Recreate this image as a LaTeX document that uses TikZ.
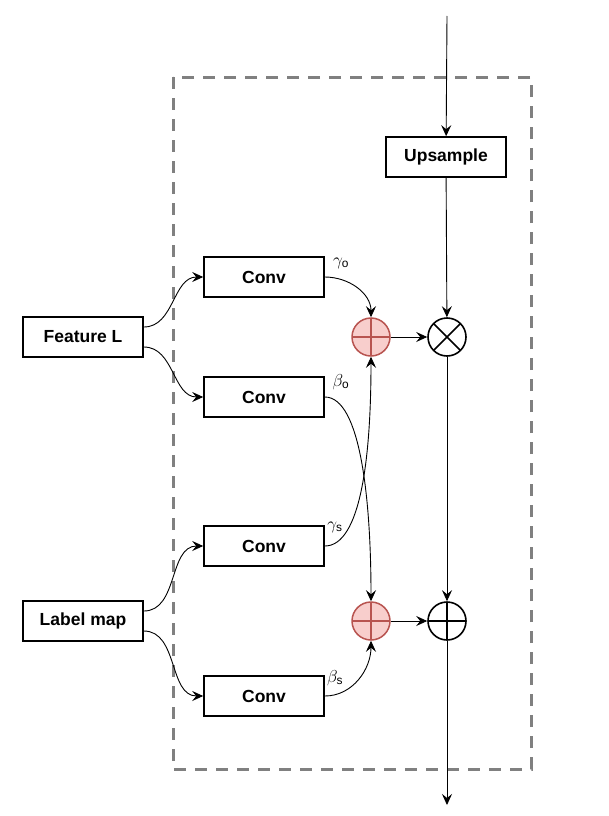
\documentclass[tikz,border=0pt]{standalone}
\usepackage{fontspec}
\setmainfont{Liberation Sans}
\usetikzlibrary{arrows.meta}
\definecolor{sum-fill}{RGB}{248, 206, 204}
\definecolor{sum-draw}{RGB}{184, 84, 80}
\definecolor{frame-grey}{RGB}{128, 128, 128}
\tikzset{
  block/.style={draw, line width=1.6pt, minimum width=120pt, minimum height=40pt,
    inner sep=0pt, font=\bfseries\fontsize{17.5}{20}\selectfont},
  redsum/.style={circle, draw=sum-draw, fill=sum-fill, line width=1.5pt,
    minimum size=38pt, inner sep=0pt,
    path picture={\draw[sum-draw, line width=1.5pt]
      (path picture bounding box.north) -- (path picture bounding box.south)
      (path picture bounding box.west) -- (path picture bounding box.east);}},
  plussign/.style={circle, draw, line width=1.6pt, minimum size=38pt, inner sep=0pt,
    path picture={\draw[line width=1.6pt]
      (path picture bounding box.north) -- (path picture bounding box.south)
      (path picture bounding box.west) -- (path picture bounding box.east);}},
  timessign/.style={circle, draw, line width=1.6pt, minimum size=38pt, inner sep=0pt,
    path picture={\draw[line width=1.6pt]
      (path picture bounding box.north west) -- (path picture bounding box.south east)
      (path picture bounding box.south west) -- (path picture bounding box.north east);}},
  lbl/.style={inner sep=0pt, font=\fontsize{17}{19}\selectfont},
  frame/.style={draw=frame-grey, line width=3pt, dash pattern=on 12pt off 9pt},
  link/.style={-{Stealth[length=11pt, width=10pt, inset=4pt]}, line width=0.9pt}
}
\begin{document}
\begin{tikzpicture}[x=1pt, y=-1pt]
\useasboundingbox (0,0) rectangle (609,816);
\draw[frame] (173,77) rectangle (531,769);

% main path
\coordinate (in) at (447,16);
\coordinate (out) at (447,805);
\node[block] (up) at (446,157) {Upsample};
\node[timessign] (mul) at (447,337) {};
\node[plussign] (add) at (447,621) {};

% inputs and convolutions
\node[block] (feat) at (83,337) {Feature L};
\node[block] (lab) at (83,621) {Label map};
\node[block] (convgo) at (264,277) {Conv};
\node[block] (convbo) at (264,397) {Conv};
\node[block] (convgs) at (264,546) {Conv};
\node[block] (convbs) at (264,696) {Conv};

\node[redsum] (sumg) at (371,337) {};
\node[redsum] (sumb) at (371,621) {};

\node[lbl] (go) at (341,263) {$\gamma_\mathrm{o}$};
\node[lbl] (bo) at (341,382) {$\beta_\mathrm{o}$};
\node[lbl] (gs) at (335,527) {$\gamma_\mathrm{s}$};
\node[lbl] (bs) at (335,678) {$\beta_\mathrm{s}$};

\draw[link] (in) -- (up);
\draw[link] (up) -- (mul);
\draw[link] (mul) -- (add);
\draw[link] (add) -- (out);

\draw[link] ([yshift=10pt]feat.east) to[out=0, in=180] (convgo.west);
\draw[link] ([yshift=-10pt]feat.east) to[out=0, in=180] (convbo.west);
\draw[link] ([yshift=10pt]lab.east) to[out=0, in=180] (convgs.west);
\draw[link] ([yshift=-10pt]lab.east) to[out=0, in=180] (convbs.west);

\draw[link] (convgo.east) to[out=0, in=90] (sumg.north);
\draw[link] (convbo.east) .. controls +(36,0) and +(0,-100) .. (sumb.north);
\draw[link] (convgs.east) .. controls +(36,0) and +(0,100) .. (sumg.south);
\draw[link] (convbs.east) to[out=0, in=270] (sumb.south);

\draw[link] (sumg) -- (mul);
\draw[link] (sumb) -- (add);
\end{tikzpicture}
\end{document}
